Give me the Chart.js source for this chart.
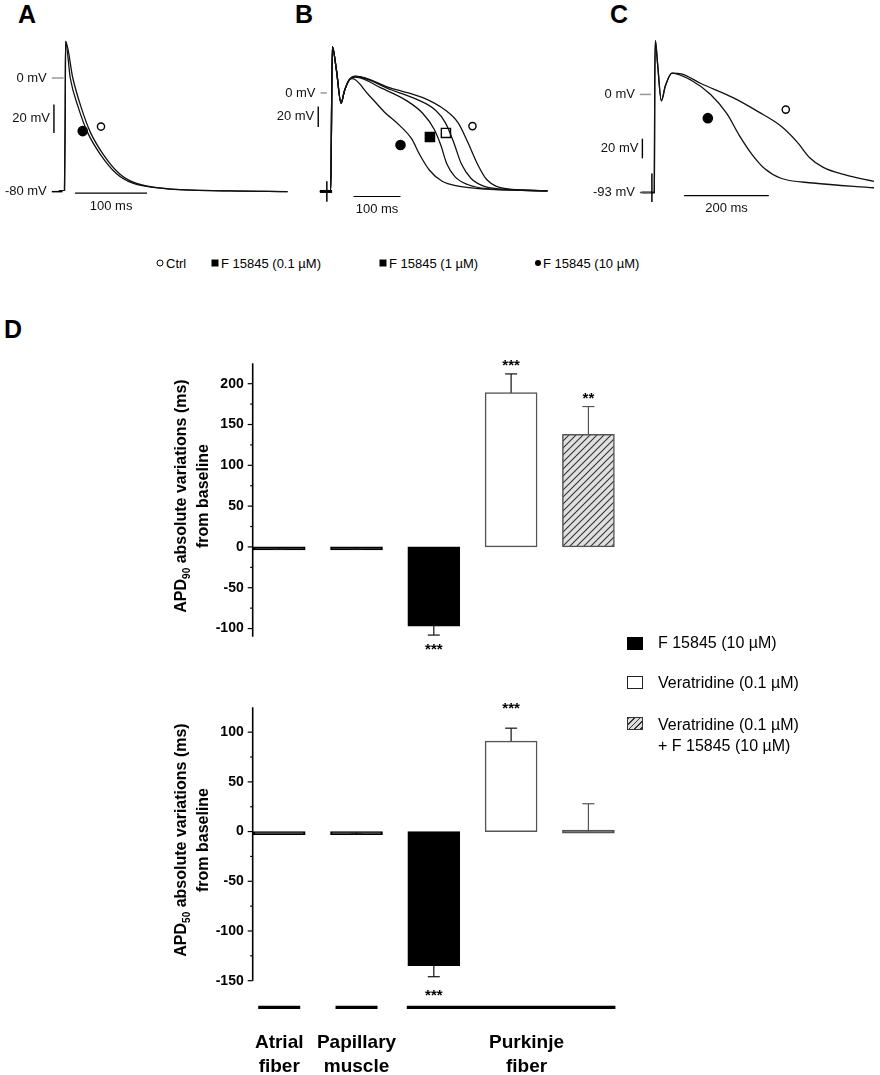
<!doctype html>
<html>
<head>
<meta charset="utf-8">
<title>F 15845 - action potentials and APD</title>
<script src="https://cdn.jsdelivr.net/npm/chart.js@4.4.1/dist/chart.umd.min.js"></script>
<style>
  * { margin: 0; padding: 0; box-sizing: border-box; }
  body { width: 880px; height: 1075px; position: relative; background: #fff; overflow: hidden;
         font-family: "Liberation Sans", Arial, sans-serif; color: #000; }
  canvas { position: absolute; }
  .panel { position: absolute; font-weight: bold; font-size: 25px; line-height: 25px; }
  .lg { position: absolute; font-size: 13px; line-height: 13px; transform: translateY(-50%); white-space: nowrap; }
  .sym { position: absolute; transform: translate(-50%, -50%); }
  .lgd { position: absolute; font-size: 16px; line-height: 16px; transform: translateY(-50%); white-space: nowrap; }
  .box { position: absolute; width: 16px; height: 13px; }
</style>
</head>
<body>
<div class="panel" style="left:18px;top:2px">A</div>
<div class="panel" style="left:295px;top:2px">B</div>
<div class="panel" style="left:610px;top:2px">C</div>
<div class="panel" style="left:4px;top:317px">D</div>

<canvas id="cA" width="295" height="230" style="left:0;top:0"></canvas>
<canvas id="cB" width="300" height="230" style="left:262px;top:0"></canvas>
<canvas id="cC" width="318" height="230" style="left:562px;top:0"></canvas>

<!-- legend for the traces -->
<div class="sym" style="left:160px;top:263px;width:7px;height:7px;border:1.5px solid #000;border-radius:50%"></div>
<div class="lg" style="left:166px;top:263px">Ctrl</div>
<div class="sym" style="left:215px;top:263px;width:7px;height:7px;background:#000"></div>
<div class="lg" style="left:221px;top:263px">F 15845 (0.1 µM)</div>
<div class="sym" style="left:383px;top:263px;width:7px;height:7px;background:#000"></div>
<div class="lg" style="left:389px;top:263px">F 15845 (1 µM)</div>
<div class="sym" style="left:538px;top:263px;width:6px;height:6px;background:#000;border-radius:50%"></div>
<div class="lg" style="left:543px;top:263px">F 15845 (10 µM)</div>

<canvas id="c90" width="480" height="320" style="left:160px;top:340px"></canvas>
<canvas id="c50" width="480" height="385" style="left:160px;top:690px"></canvas>

<!-- legend for panel D -->
<div class="box" style="left:627px;top:637px;background:#000"></div>
<div class="lgd" style="left:658px;top:643px">F 15845 (10 µM)</div>
<div class="box" style="left:627px;top:676px;border:1.5px solid #222;background:#fff"></div>
<div class="lgd" style="left:658px;top:683px">Veratridine (0.1 µM)</div>
<div class="box" style="left:627px;top:717px;border:1.5px solid #333;background:repeating-linear-gradient(135deg,#333 0 1px,#ddd 1px 4px)"></div>
<div class="lgd" style="left:658px;top:725px">Veratridine (0.1 µM)</div>
<div class="lgd" style="left:658px;top:746px">+ F 15845 (10 µM)</div>

<script>
// ---- traces: [time (ms), potential (mV)] ----
// A: atrial fiber
const aCtrl = [[-8,-80],[0,-79.5],[1,-20],[1.5,26],[11.5,0],[23,-20.6],[36,-38.5],[54,-54.2],[76,-67.6],[98,-74.3],[143,-78.3],[230,-79.9],[310,-80.5]];
const aF10  = [[-8,-80],[0,-79.5],[1,-20],[1.5,26],[8,0],[19,-20.6],[32,-38.5],[50,-54.2],[72,-67.6],[94,-74.3],[139,-78.3],[230,-79.9],[310,-80.5]];
const aMarks = [[25.3,-37.6,'c10'],[50.7,-34.4,'ctrl']];

// B: papillary muscle
const bCtrl = [[-23,-96],[0,-96],[3.5,45],[12,23],[22,-10],[29,1.6],[39,12.4],[53,16.3],[128,4.6],[196,-4.6],[244,-16.9],[271,-29.2],[291,-47.6],[312,-69.3],[332,-84.6],[373,-93.2],[461,-95.4]];
const bF01  = [[-23,-96],[0,-96],[3.5,45],[12,23],[22,-10],[29,1.6],[39,12.4],[53,16],[128,3.1],[182,-6.1],[223,-16.9],[244,-29.2],[261,-47.6],[278,-69.3],[298,-83.1],[325,-90.8],[360,-93.5],[461,-95.4]];
const bF1   = [[-23,-96],[0,-96],[3.5,45],[12,23],[22,-10],[29,1.6],[39,12.4],[53,15.4],[108,4.6],[162,-7.7],[196,-20],[220,-35.4],[234,-50.8],[247,-69.3],[264,-81.5],[291,-89.2],[332,-93.3],[461,-95.4]];
const bF10  = [[-23,-96],[0,-96],[3.5,45],[12,23],[22,-10],[29,1.6],[39,12.4],[46,13.9],[80,-1.5],[114,-18.5],[148,-32.3],[172,-44.6],[189,-60],[210,-75.3],[237,-86.1],[271,-90.8],[332,-93.8],[461,-95.4]];
const bMarks = [[148.4,-50.8,'c10'],[211,-43,'c1'],[245,-39,'c01'],[301.4,-32.3,'ctrl']];

// C: Purkinje fiber
const cCtrl = [[-30,-93],[0,-93],[1,10],[2.5,51],[7.5,30],[16.6,-6],[26,8],[41.6,20.3],[64,19.5],[110,10.4],[186,-3],[246,-16.5],[299,-30],[337,-45],[367,-60],[398,-69],[451,-76.4],[519,-82.5]];
const cF10  = [[-30,-93],[0,-93],[1,10],[2.5,51],[7.5,30],[16.6,-6],[26,8],[41.6,20.3],[87,13.5],[133,0],[171,-18],[201,-39],[231,-57],[261,-70.5],[299,-79.5],[375,-84],[519,-88.5]];
const cMarks = [[126.4,-22.5,'c10'],[310.5,-14.4,'ctrl']];

// ---- panel D: APD absolute variations from baseline (ms) ----
const barKind = ['drug','drug','drug','vera','both'];
const apd90 = [-1, -1, -97, 189, 138];
const apd90Sem = [2, 2, 11, 23, 34];
const apd90Stars = ['', '', '***', '***', '**'];
const apd90Ticks = [-100, -50, 0, 50, 100, 150, 200];
const apd90Minor = [-75, -25, 25, 75, 125, 175];

const apd50 = [-0.5, -0.5, -135, 91, 0];
const apd50Sem = [0, 2, 11, 13, 28];
const apd50Stars = ['', '', '***', '***', ''];
const apd50Ticks = [-150, -100, -50, 0, 50, 100];
const apd50Minor = [-125, -75, -25, 25, 75];

const groupNames = [['Atrial','fiber'], ['Papillary','muscle'], ['Purkinje','fiber']];
const groupBars = [[0,0], [1,1], [2,4]];
const groupLabelAt = [0, 1, 3.2];

const FONT = '"Liberation Sans", Arial, sans-serif';
Chart.defaults.font.family = FONT;

const MARK = {
  ctrl: {style:'circle', r:3.6, fill:'#fff'},
  c01:  {style:'rect',   r:6.5, fill:'#fff'},
  c1:   {style:'rect',   r:6.5, fill:'#000'},
  c10:  {style:'circle', r:4.6, fill:'#000'}
};

const xy = arr => arr.map(p => ({x: p[0], y: p[1]}));

function traceSet(pts) {
  return {data: xy(pts), borderColor: '#111', borderWidth: 1.3, pointRadius: 0,
          cubicInterpolationMode: 'monotone', fill: false};
}
function markSet(marks) {
  return {data: xy(marks), showLine: false,
          pointStyle: marks.map(m => MARK[m[2]].style),
          pointRadius: marks.map(m => MARK[m[2]].r),
          pointBackgroundColor: marks.map(m => MARK[m[2]].fill),
          pointBorderColor: '#000', pointBorderWidth: 1.4};
}

// scale bars, reference ticks and stimulus marks of the trace panels
const scaleBars = {
  id: 'scaleBars',
  afterDatasetsDraw(chart, args, o) {
    const ctx = chart.ctx, X = chart.scales.x, Y = chart.scales.y;
    const px = t => X.getPixelForValue(t), py = v => Y.getPixelForValue(v);
    const seg = (x1, y1, x2, y2) => { ctx.beginPath(); ctx.moveTo(x1, y1); ctx.lineTo(x2, y2); ctx.stroke(); };
    ctx.save();
    ctx.font = '13px ' + FONT;
    ctx.fillStyle = '#111';
    ctx.textBaseline = 'middle';
    (o.ticks || []).forEach(k => {
      ctx.strokeStyle = k.color; ctx.lineWidth = 1.5;
      seg(px(k.t1), py(k.v), px(k.t2), py(k.v));
      ctx.textAlign = 'right';
      ctx.fillText(k.label, px(k.t1) - 5, py(k.v));
    });
    ctx.strokeStyle = '#000'; ctx.lineWidth = 1.4;
    const vb = o.vbar;
    seg(px(vb.t), py(vb.v1), px(vb.t), py(vb.v2));
    ctx.textAlign = 'right';
    ctx.fillText(vb.label, px(vb.t) - 4, (py(vb.v1) + py(vb.v2)) / 2);
    const hb = o.hbar;
    ctx.lineWidth = 1.2;
    seg(px(hb.t1), py(hb.v), px(hb.t2), py(hb.v));
    ctx.textAlign = 'center';
    ctx.fillText(hb.label, (px(hb.t1) + px(hb.t2)) / 2, py(hb.v) + 13);
    if (o.stim) {
      ctx.lineWidth = 1.5;
      seg(px(o.stim.t), py(o.stim.v1), px(o.stim.t), py(o.stim.v2));
    }
    if (o.stimH) {
      ctx.lineWidth = 3;
      seg(px(o.stimH.t1), py(o.stimH.v), px(o.stimH.t2), py(o.stimH.v));
    }
    ctx.restore();
  }
};

function traceChart(id, xr, yr, traces, marks, bars) {
  return new Chart(document.getElementById(id), {
    type: 'line',
    data: {datasets: traces.map(traceSet).concat([markSet(marks)])},
    options: {
      responsive: false, animation: false, devicePixelRatio: 1,
      layout: {padding: 0},
      scales: {
        x: {type: 'linear', display: false, min: xr[0], max: xr[1]},
        y: {type: 'linear', display: false, min: yr[0], max: yr[1]}
      },
      plugins: {legend: {display: false}, tooltip: {enabled: false}, scaleBars: bars}
    },
    plugins: [scaleBars]
  });
}

traceChart('cA', [-81.33, 312], [-103.4, 51], [aCtrl, aF10], aMarks, {
  ticks: [{v: 0, t1: -17.7, t2: -1.3, color: '#999', label: '0 mV'},
          {v: -80.5, t1: -17.7, t2: -3, color: '#000', label: '-80 mV'}],
  vbar: {t: -14.7, v1: -18.8, v2: -38.9, label: '20 mV'},
  hbar: {v: -81.6, t1: 14.7, t2: 114.7, label: '100 ms'}
});
traceChart('cB', [-133.3, 479], [-127.7, 84.7], [bCtrl, bF01, bF1, bF10], bMarks, {
  ticks: [{v: 0, t1: -21.6, t2: -8.2, color: '#999', label: '0 mV'}],
  vbar: {t: -26.5, v1: -13.2, v2: -33.2, label: '20 mV'},
  hbar: {v: -100.9, t1: 48.4, t2: 148.4, label: '100 ms'},
  stim: {t: -8.2, v1: -86, v2: -106},
  stimH: {v: -96, t1: -23, t2: 3}
});
traceChart('cC', [-203.9, 518.9], [-122.9, 83.9], [cCtrl, cF10], cMarks, {
  ticks: [{v: 0, t1: -34.1, t2: -7.7, color: '#999', label: '0 mV'},
          {v: -93, t1: -34.1, t2: -7.7, color: '#555', label: '-93 mV'}],
  vbar: {t: -28.2, v1: -42, v2: -60.6, label: '20 mV'},
  hbar: {v: -96, t1: 70.5, t2: 270.5, label: '200 ms'},
  stim: {t: -5.7, v1: -75, v2: -102}
});

// ---- panel D ----
function hatch() {
  const c = document.createElement('canvas');
  c.width = c.height = 7;
  const g = c.getContext('2d');
  g.fillStyle = '#e0e0e0'; g.fillRect(0, 0, 7, 7);
  g.strokeStyle = '#333'; g.lineWidth = 1.1;
  g.beginPath();
  g.moveTo(0, 7); g.lineTo(7, 0);
  g.moveTo(-1, 1); g.lineTo(1, -1);
  g.moveTo(6, 8); g.lineTo(8, 6);
  g.stroke();
  return g.createPattern(c, 'repeat');
}
const HATCH = hatch();
const edge = k => k === 'drug' ? '#000' : '#555';
function fillFor(k, v) {
  if (Math.abs(v) < 2) return edge(k);
  return k === 'drug' ? '#000' : (k === 'vera' ? '#fff' : HATCH);
}

const apdAxis = {
  id: 'apdAxis',
  afterDatasetsDraw(chart, args, o) {
    const ctx = chart.ctx, a = chart.chartArea, X = chart.scales.x, Y = chart.scales.y;
    const seg = (x1, y1, x2, y2) => { ctx.beginPath(); ctx.moveTo(x1, y1); ctx.lineTo(x2, y2); ctx.stroke(); };
    ctx.save();
    // error bars (one-sided, away from zero)
    o.vals.forEach((v, i) => {
      const e = o.sem[i];
      if (!e) return;
      const dir = v >= 0 ? 1 : -1, x = X.getPixelForValue(i);
      const y0 = Y.getPixelForValue(v), y1 = Y.getPixelForValue(v + dir * e);
      ctx.strokeStyle = barKind[i] === 'both' ? '#555' : '#111';
      ctx.lineWidth = 1.2;
      seg(x, y0, x, y1);
      seg(x - 6, y1, x + 6, y1);
    });
    // significance stars
    ctx.fillStyle = '#000';
    ctx.font = 'bold 15px ' + FONT;
    ctx.textAlign = 'center';
    ctx.textBaseline = 'alphabetic';
    o.vals.forEach((v, i) => {
      if (!o.stars[i]) return;
      const dir = v >= 0 ? 1 : -1;
      const y1 = Y.getPixelForValue(v + dir * o.sem[i]);
      ctx.fillText(o.stars[i], X.getPixelForValue(i), dir > 0 ? y1 - o.starUp : y1 + o.starDown);
    });
    // y axis
    ctx.strokeStyle = '#000';
    ctx.lineWidth = 1.6;
    seg(a.left, a.top, a.left, a.bottom);
    ctx.lineWidth = 1.2;
    o.major.forEach(v => { const y = Y.getPixelForValue(v); seg(a.left - 5, y, a.left, y); });
    o.minor.forEach(v => { const y = Y.getPixelForValue(v); seg(a.left - 2.5, y, a.left, y); });
    ctx.font = 'bold 14px ' + FONT;
    ctx.textAlign = 'right';
    ctx.textBaseline = 'middle';
    o.major.forEach(v => ctx.fillText(String(v), a.left - 9, Y.getPixelForValue(v)));
    // y title with subscript
    const yc = (a.top + a.bottom) / 2 - 4;
    ctx.save();
    ctx.translate(a.left - 71, yc);
    ctx.rotate(-Math.PI / 2);
    const big = 'bold 16px ' + FONT, small = 'bold 10px ' + FONT;
    const rest = ' absolute variations (ms)';
    ctx.font = big; const w1 = ctx.measureText('APD').width, w3 = ctx.measureText(rest).width;
    ctx.font = small; const w2 = ctx.measureText(o.sub).width;
    let x = -(w1 + w2 + w3) / 2;
    ctx.textAlign = 'left';
    ctx.textBaseline = 'middle';
    ctx.font = big; ctx.fillText('APD', x, 0); x += w1;
    ctx.font = small; ctx.fillText(o.sub, x, 6); x += w2;
    ctx.font = big; ctx.fillText(rest, x, 0);
    ctx.textAlign = 'center';
    ctx.fillText('from baseline', 0, 21.5);
    ctx.restore();
    // cell-type groups under the lower chart
    if (o.groups) {
      const yl = a.bottom + 26.6;
      ctx.lineWidth = 3.2;
      ctx.strokeStyle = '#000';
      groupBars.forEach((g, j) => {
        const pad = g[0] === g[1] ? 21 : 27;
        seg(X.getPixelForValue(g[0]) - pad, yl, X.getPixelForValue(g[1]) + pad, yl);
        ctx.font = 'bold 19px ' + FONT;
        ctx.textAlign = 'center';
        ctx.textBaseline = 'alphabetic';
        const xc = X.getPixelForValue(groupLabelAt[j]);
        ctx.fillText(groupNames[j][0], xc, a.bottom + 67.3);
        ctx.fillText(groupNames[j][1], xc, a.bottom + 90.8);
      });
    }
    ctx.restore();
  }
};

function apdChart(id, vals, sem, stars, major, minor, sub, yr, pad, groups, starUp, starDown) {
  return new Chart(document.getElementById(id), {
    type: 'bar',
    data: {
      datasets: [{
        data: vals.map((v, i) => ({x: i, y: v})),
        backgroundColor: vals.map((v, i) => fillFor(barKind[i], v)),
        borderColor: barKind.map(edge),
        borderWidth: 1.5,
        borderSkipped: false,
        barThickness: 52,
        minBarLength: 3
      }]
    },
    options: {
      responsive: false, animation: false, devicePixelRatio: 1,
      layout: {padding: pad},
      scales: {
        x: {type: 'linear', display: false, offset: false, min: -0.343, max: 4.538},
        y: {type: 'linear', display: false, min: yr[0], max: yr[1]}
      },
      plugins: {
        legend: {display: false}, tooltip: {enabled: false},
        apdAxis: {vals, sem, stars, major, minor, sub, groups, starUp, starDown}
      }
    },
    plugins: [apdAxis]
  });
}

apdChart('c90', apd90, apd90Sem, apd90Stars, apd90Ticks, apd90Minor, '90', [-110, 225],
         {left: 92.7, top: 23.3, right: 10, bottom: 23.3}, false, 4, 19);
apdChart('c50', apd50, apd50Sem, apd50Stars, apd50Ticks, apd50Minor, '50', [-150, 125],
         {left: 92.7, top: 17.3, right: 10, bottom: 94.3}, true, 15.4, 23);
</script>
</body>
</html>
